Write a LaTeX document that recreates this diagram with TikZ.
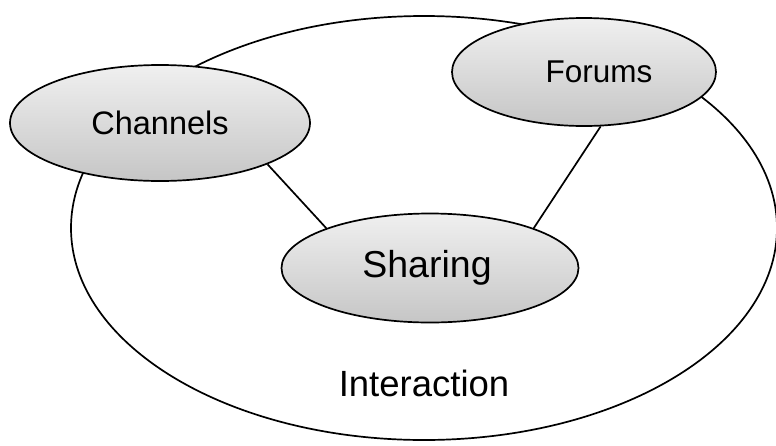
\documentclass[tikz,border=0pt]{standalone}
\usepackage{fontspec}
\setmainfont{Liberation Sans}
\usetikzlibrary{shapes.geometric}
\begin{document}
\begin{tikzpicture}[x=1pt,y=-1pt,
  bub/.style={ellipse,draw=black,line width=1.7pt,top color=gray!12,bottom color=gray!45,inner sep=0pt},
  link/.style={draw=black,line width=1.7pt}]
\useasboundingbox (0,0) rectangle (776,445);
\begin{scope}
\clip (0,0) rectangle (776,445);
\node[ellipse,draw=black,line width=1.7pt,minimum width=706pt,minimum height=424pt,inner sep=0pt] (inter) at (424,228) {};
\end{scope}
\node[font=\fontsize{36.5}{40}\selectfont] (lab) at (424,383) {Interaction};
\node[bub,minimum width=300pt,minimum height=116pt,font=\fontsize{32.5}{36}\selectfont] (ch) at (160,123) {Channels};
\node[bub,minimum width=264pt,minimum height=108pt,font=\fontsize{31.5}{36}\selectfont] (fo) at (584,72) {\hspace*{30pt}Forums};
\node[bub,minimum width=297pt,minimum height=109pt,font=\fontsize{37.5}{42}\selectfont] (sh) at (430,268) {Sharing\hspace*{6pt}};
\draw[link] (ch.-21) -- (sh.159);
\draw[link] (fo.-73) -- (sh.21);
\end{tikzpicture}
\end{document}
